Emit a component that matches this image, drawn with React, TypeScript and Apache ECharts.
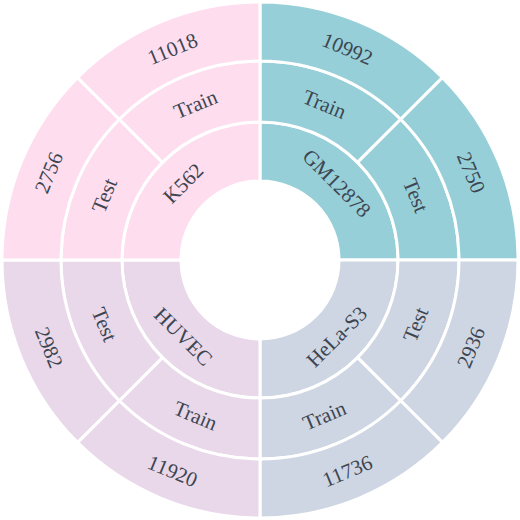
import React, { useEffect, useRef } from 'react';
import * as echarts from 'echarts';

// clockwise from 12 o'clock
const cellLines = ['GM12878', 'HeLa-S3', 'HUVEC', 'K562'];
const cellColors = ['#96CFD8', '#CDD6E2', '#E8D8E9', '#FDDDEE'];
const splitOrder = [
  ['Train', 'Test'],
  ['Test', 'Train'],
  ['Train', 'Test'],
  ['Test', 'Train']
];
const trainCounts = [10992, 11736, 11920, 11018];
const testCounts = [2750, 2936, 2982, 2756];

const App: React.FC = () => {
  const chartRef = useRef<HTMLDivElement>(null);

  useEffect(() => {
    if (!chartRef.current) return;
    const chart = echarts.init(chartRef.current, null, { renderer: 'svg' });

    const data = cellLines.map((name, i) => ({
      name,
      itemStyle: { color: cellColors[i] },
      children: splitOrder[i].map(split => ({
        name: split,
        itemStyle: { color: cellColors[i] },
        children: [
          {
            name: String(split === 'Train' ? trainCounts[i] : testCounts[i]),
            value: 1,
            itemStyle: { color: cellColors[i] }
          }
        ]
      }))
    }));

    chart.setOption({
      animation: false,
      series: [
        {
          type: 'sunburst',
          center: ['50%', '50%'],
          sort: null,
          nodeClick: false,
          startAngle: 90,
          data,
          itemStyle: {
            borderColor: '#ffffff',
            borderWidth: 3
          },
          label: {
            rotate: 'tangential',
            color: '#3D4551',
            fontFamily: 'Liberation Serif',
            fontSize: 21
          },
          emphasis: { disabled: true },
          levels: [
            {},
            { r0: 79, r: 138 },
            { r0: 138, r: 199 },
            { r0: 199, r: 258 }
          ]
        }
      ]
    });

    return () => {
      chart.dispose();
    };
  }, []);

  return (
    <div
      ref={chartRef}
      style={{ position: 'fixed', left: 0, top: 0, width: '520px', height: '520px', background: '#fff' }}
    />
  );
};

export default App;
